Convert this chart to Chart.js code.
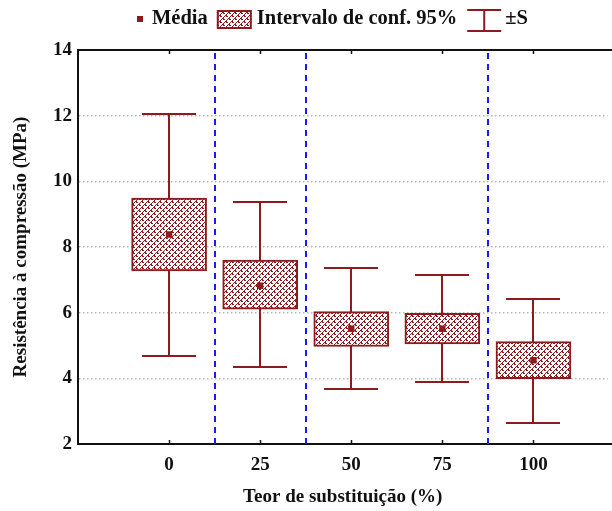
<!DOCTYPE html>
<html>
<head>
<meta charset="utf-8">
<script src="https://cdn.jsdelivr.net/npm/chart.js@4/dist/chart.umd.min.js"></script>
<style>
  html, body { margin: 0; padding: 0; background: #fff; }
  #wrap { width: 612px; height: 511px; }
</style>
</head>
<body>
<div id="wrap"><canvas id="chart" width="612" height="511"></canvas></div>
<script>
// Compressive strength by substitution content: mean, 95% CI and ±1 SD
const categories = ['0', '25', '50', '75', '100'];
const means  = [8.38, 6.82, 5.51, 5.51, 4.55];
const ciLow  = [7.27, 6.11, 4.97, 5.05, 3.99];
const ciHigh = [9.49, 7.60, 6.03, 5.98, 5.12];
const sdLow  = [4.67, 4.33, 3.69, 3.88, 2.63];
const sdHigh = [12.05, 9.37, 7.35, 7.15, 6.42];
const yTicks = [2, 4, 6, 8, 10, 12, 14];
const separators = [0.5, 1.5, 3.5];

const RED = '#8e1b1b';
const FONT = '"Liberation Serif", "DejaVu Serif", serif';

// Small woven hatch used for the confidence-interval boxes
function makeHatch() {
  const t = document.createElement('canvas');
  t.width = 6; t.height = 6;
  const g = t.getContext('2d');
  g.fillStyle = '#fff';
  g.fillRect(0, 0, 6, 6);
  g.fillStyle = RED;
  const px = [
    [0,0],[1,0],[1,1],[2,1],
    [3,3],[4,3],[4,4],[5,4],
    [5,1],[4,2],
    [2,4],[1,5]
  ];
  px.forEach(([x, y]) => g.fillRect(x, y, 1, 1));
  return g.createPattern(t, 'repeat');
}
const ctx0 = document.getElementById('chart').getContext('2d');
const hatch = makeHatch();

// Whiskers (±S) drawn behind the boxes
const whiskers = {
  id: 'whiskers',
  beforeDatasetsDraw(chart) {
    const {ctx, scales: {x, y}} = chart;
    ctx.save();
    ctx.strokeStyle = RED;
    ctx.lineWidth = 2;
    const half = 27;
    categories.forEach((_, i) => {
      const px = Math.round(x.getPixelForValue(i));
      const top = Math.round(y.getPixelForValue(sdHigh[i]));
      const bot = Math.round(y.getPixelForValue(sdLow[i]));
      ctx.beginPath();
      ctx.moveTo(px, top); ctx.lineTo(px, bot);
      ctx.moveTo(px - half, top); ctx.lineTo(px + half, top);
      ctx.moveTo(px - half, bot); ctx.lineTo(px + half, bot);
      ctx.stroke();
    });
    ctx.restore();
  }
};

// Blue group separators, top frame and inward category ticks
const frame = {
  id: 'frame',
  beforeDatasetsDraw(chart) {
    const {ctx, chartArea: a, scales: {x}} = chart;
    ctx.save();
    ctx.strokeStyle = '#1a1aff';
    ctx.lineWidth = 2;
    ctx.setLineDash([6, 5]);
    separators.forEach(v => {
      const px = Math.round(x.getPixelForValue(v));
      ctx.beginPath();
      ctx.moveTo(px, a.bottom); ctx.lineTo(px, a.top);
      ctx.stroke();
    });
    ctx.restore();
  },
  afterDraw(chart) {
    const {ctx, chartArea: a, scales: {x}} = chart;
    ctx.save();
    ctx.strokeStyle = '#111';
    ctx.lineWidth = 2;
    ctx.beginPath();
    ctx.moveTo(a.left - 1, a.top); ctx.lineTo(chart.width, a.top);
    ctx.moveTo(a.right - 1, a.bottom); ctx.lineTo(chart.width, a.bottom);
    ctx.stroke();
    ctx.lineWidth = 1.5;
    categories.forEach((_, i) => {
      const px = Math.round(x.getPixelForValue(i)) + 0.5;
      ctx.beginPath();
      ctx.moveTo(px, a.bottom); ctx.lineTo(px, a.bottom - 4);
      ctx.moveTo(px, a.top); ctx.lineTo(px, a.top + 4);
      ctx.stroke();
    });
    ctx.restore();
  }
};

// Legend row across the top
const legendRow = {
  id: 'legendRow',
  afterDraw(chart) {
    const ctx = chart.ctx;
    ctx.save();
    ctx.font = 'bold 20.5px ' + FONT;
    ctx.textBaseline = 'middle';
    const cy = 19;
    let x = 137;
    ctx.fillStyle = RED;
    ctx.fillRect(x, cy - 3, 6, 6);
    x += 15;
    ctx.fillStyle = '#111';
    ctx.fillText('Média', x, cy);
    x += ctx.measureText('Média').width + 9;
    ctx.fillStyle = hatch;
    ctx.fillRect(x, cy - 9, 35, 19);
    ctx.strokeStyle = RED;
    ctx.lineWidth = 2;
    ctx.strokeRect(x + 1, cy - 8, 33, 17);
    x += 40;
    ctx.fillStyle = '#111';
    const ci = 'Intervalo de conf. 95%';
    ctx.fillText(ci, x, cy);
    x += ctx.measureText(ci).width + 10;
    ctx.beginPath();
    ctx.moveTo(x, cy - 9); ctx.lineTo(x + 34, cy - 9);
    ctx.moveTo(x + 17, cy - 9); ctx.lineTo(x + 17, cy + 12);
    ctx.moveTo(x, cy + 12); ctx.lineTo(x + 34, cy + 12);
    ctx.stroke();
    x += 38;
    ctx.fillText('±S', x, cy);
    ctx.restore();
  }
};

new Chart(ctx0, {
  type: 'bar',
  data: {
    datasets: [
      {
        type: 'scatter',
        label: 'Média',
        data: means.map((m, i) => ({x: i, y: m})),
        pointStyle: 'rect',
        pointRadius: 4.5,
        pointBorderWidth: 0,
        backgroundColor: RED,
        order: 0
      },
      {
        label: 'Intervalo de conf. 95%',
        data: categories.map((_, i) => ({x: i, y: [ciLow[i], ciHigh[i]]})),
        backgroundColor: hatch,
        borderColor: RED,
        borderWidth: 2,
        borderSkipped: false,
        barThickness: 75,
        order: 1
      }
    ]
  },
  options: {
    responsive: false,
    animation: false,
    devicePixelRatio: 1,
    layout: { padding: { top: 50, left: 0, right: 0, bottom: 0 } },
    plugins: { legend: { display: false }, tooltip: { enabled: false } },
    scales: {
      x: {
        type: 'linear',
        offset: false,
        min: -1,
        max: 4.813,
        afterBuildTicks: s => { s.ticks = categories.map((_, i) => ({value: i})); },
        afterFit: s => { s.height = 67; },
        ticks: {
          callback: v => categories[v],
          color: '#111',
          font: { family: FONT, size: 19, weight: 'bold' },
          padding: 10,
          maxRotation: 0
        },
        grid: { display: false, drawTicks: false },
        border: { display: true, color: '#111', width: 2 },
        title: {
          display: true,
          text: 'Teor de substituição (%)',
          color: '#111',
          font: { family: FONT, size: 19, weight: 'bold' },
          padding: { top: 0, bottom: 3 }
        }
      },
      y: {
        min: 2,
        max: 14,
        afterBuildTicks: s => { s.ticks = yTicks.map(v => ({value: v})); },
        afterFit: s => { s.width = 78; },
        ticks: {
          color: '#111',
          font: { family: FONT, size: 19, weight: 'bold' },
          padding: 6
        },
        grid: {
          drawTicks: false,
          color: c => (c.tick && (c.tick.value === 2 || c.tick.value === 14)) ? 'rgba(0,0,0,0)' : '#b5b5b5',
          lineWidth: 1.5
        },
        border: { display: true, color: '#111', width: 2, dash: [1.5, 2.5] },
        title: {
          display: true,
          text: 'Resistência à compressão (MPa)',
          color: '#111',
          font: { family: FONT, size: 19, weight: 'bold' },
          padding: { top: 10, bottom: 0 }
        }
      }
    }
  },
  plugins: [frame, whiskers, legendRow]
});
</script>
</body>
</html>
